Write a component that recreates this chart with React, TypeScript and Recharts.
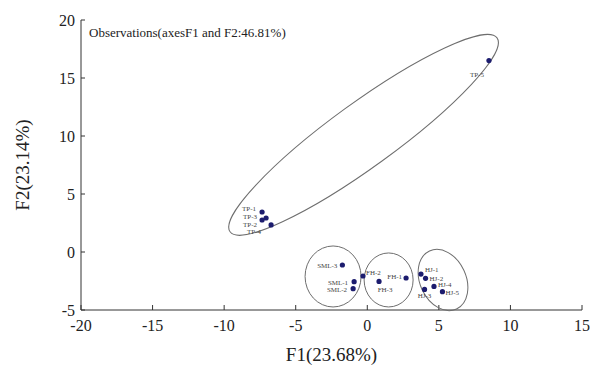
import { ScatterChart, Scatter, XAxis, YAxis, ReferenceDot, Customized } from 'recharts';

const SERIF = "'Liberation Serif', 'Times New Roman', serif";
const DOT = '#1c1c6e';

// axis ticks
const xTicks = [-20, -15, -10, -5, 0, 5, 10, 15];
const yTicks = [-5, 0, 5, 10, 15, 20];

// observations, one small array per group
const tpNames = ['TP-1', 'TP-2', 'TP-3', 'TP-4', 'TP-5'];
const tpF1 = [-7.35, -7.35, -7.07, -6.72, 8.5];
const tpF2 = [3.45, 2.76, 2.93, 2.33, 16.5];

const smlNames = ['SML-3', 'SML-1', 'SML-2'];
const smlF1 = [-1.74, -0.92, -0.99];
const smlF2 = [-1.12, -2.56, -3.16];

const fhNames = ['FH-2', 'FH-3', 'FH-1'];
const fhF1 = [-0.3, 0.82, 2.71];
const fhF2 = [-2.07, -2.54, -2.24];

const hjNames = ['HJ-1', 'HJ-2', 'HJ-3', 'HJ-4', 'HJ-5'];
const hjF1 = [3.75, 4.07, 4.0, 4.66, 5.25];
const hjF2 = [-1.9, -2.27, -3.23, -2.97, -3.42];

// group ellipses: centre in data units
const ellipseCx = [-0.26, -2.39, 1.49, 5.29];
const ellipseCy = [10.1, -2.11, -2.41, -2.41];

// ellipse drawing styles (pixels / degrees)
const ellipseStyle = [
  { rx: 165, ry: 32, rot: -36 },
  { rx: 28, ry: 30.5, rot: 0 },
  { rx: 24.5, ry: 27, rot: 0 },
  { rx: 23, ry: 32, rot: -25 },
];

// where each point label sits relative to its dot
const labelPlace: Record<string, { dx: number; dy: number; anchor: string }> = {
  'TP-1': { dx: -6, dy: -1, anchor: 'end' },
  'TP-3': { dx: -9, dy: 1, anchor: 'end' },
  'TP-2': { dx: -5, dy: 7, anchor: 'end' },
  'TP-4': { dx: -10, dy: 9, anchor: 'end' },
  'TP-5': { dx: -5, dy: 16, anchor: 'end' },
  'SML-3': { dx: -5, dy: 3, anchor: 'end' },
  'SML-1': { dx: -6, dy: 3, anchor: 'end' },
  'SML-2': { dx: -6, dy: 3, anchor: 'end' },
  'FH-2': { dx: 3, dy: -1, anchor: 'start' },
  'FH-3': { dx: 6, dy: 11, anchor: 'middle' },
  'FH-1': { dx: -4, dy: 1, anchor: 'end' },
  'HJ-1': { dx: 4, dy: -2, anchor: 'start' },
  'HJ-2': { dx: 4, dy: 3, anchor: 'start' },
  'HJ-3': { dx: 0, dy: 9, anchor: 'middle' },
  'HJ-4': { dx: 4, dy: 1, anchor: 'start' },
  'HJ-5': { dx: 3, dy: 3, anchor: 'start' },
};

const toRows = (names: string[], f1: number[], f2: number[]) =>
  names.map((name, i) => ({ name, f1: f1[i], f2: f2[i] }));

const groups = [
  toRows(tpNames, tpF1, tpF2),
  toRows(smlNames, smlF1, smlF2),
  toRows(fhNames, fhF1, fhF2),
  toRows(hjNames, hjF1, hjF2),
];

const PointShape = (props: any) => {
  const { cx, cy, payload } = props;
  if (cx == null || cy == null) return null;
  const p = labelPlace[payload.name] ?? { dx: 4, dy: 3, anchor: 'start' };
  return (
    <g>
      <circle cx={cx} cy={cy} r={2.6} fill={DOT} />
      <text
        x={cx + p.dx}
        y={cy + p.dy}
        textAnchor={p.anchor as any}
        fontSize={7}
        fontFamily={SERIF}
        fill="#444"
      >
        {payload.name}
      </text>
    </g>
  );
};

const makeEllipse = (i: number) => (props: any) => {
  const { cx, cy } = props;
  const s = ellipseStyle[i];
  return (
    <ellipse
      cx={cx}
      cy={cy}
      rx={s.rx}
      ry={s.ry}
      transform={`rotate(${s.rot} ${cx} ${cy})`}
      fill="none"
      stroke="#6e6e6e"
      strokeWidth={1}
    />
  );
};

const Title = () => (
  <text x={89} y={37} fontSize={13} fontFamily={SERIF} fill="#222">
    Observations(axesF1 and F2:46.81%)
  </text>
);

export default function App() {
  return (
    <div style={{ position: 'absolute', left: 0, top: 0, background: '#fff' }}>
      <ScatterChart
        width={593}
        height={370}
        margin={{ top: 20, right: 11, bottom: 30, left: 21 }}
      >
        <XAxis
          type="number"
          dataKey="f1"
          domain={[-20, 15]}
          ticks={xTicks}
          interval={0}
          height={30}
          stroke="#333"
          tickSize={-5}
          tickMargin={15}
          tick={{ fontSize: 16, fontFamily: SERIF, fill: '#222' }}
          label={{
            value: 'F1(23.68%)',
            position: 'bottom',
            offset: 8,
            style: { fontSize: 19, fontFamily: SERIF, fill: '#222' },
          }}
        />
        <YAxis
          type="number"
          dataKey="f2"
          domain={[-5, 20]}
          ticks={yTicks}
          interval={0}
          width={60}
          stroke="#333"
          tickSize={-4}
          tickMargin={10}
          tick={{ fontSize: 16, fontFamily: SERIF, fill: '#222' }}
          label={{
            value: 'F2(23.14%)',
            angle: -90,
            position: 'insideLeft',
            offset: 1,
            style: { fontSize: 19, fontFamily: SERIF, fill: '#222', textAnchor: 'middle' },
          }}
        />
        {ellipseCx.map((x, i) => (
          <ReferenceDot
            key={`e${i}`}
            x={x}
            y={ellipseCy[i]}
            r={1}
            ifOverflow="visible"
            shape={makeEllipse(i)}
          />
        ))}
        {groups.map((rows, i) => (
          <Scatter
            key={`g${i}`}
            data={rows}
            shape={PointShape}
            isAnimationActive={false}
          />
        ))}
        <Customized component={Title} />
      </ScatterChart>
    </div>
  );
}
